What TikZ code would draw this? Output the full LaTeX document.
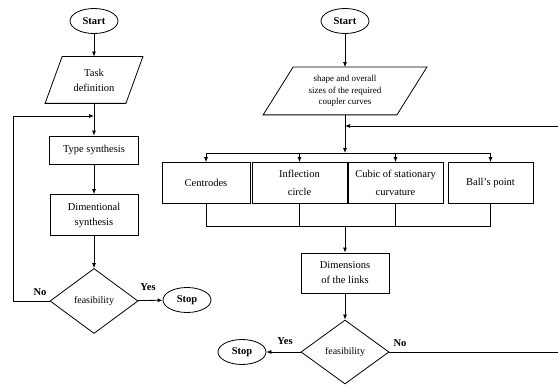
\documentclass[tikz,border=0pt]{standalone}
\usepackage{fontspec}
\setmainfont{Liberation Serif}
\usetikzlibrary{shapes.geometric,arrows.meta}
\tikzset{
  box/.style={draw,rectangle,align=center,inner sep=2pt,font=\fontsize{10.5}{15}\selectfont},
  paratext/.style={rectangle,align=center,inner sep=0pt,font=\fontsize{10.5}{15}\selectfont},
  term/.style={draw,ellipse,minimum width=48pt,minimum height=25pt,inner sep=0pt,font=\bfseries\fontsize{10.5}{12}\selectfont},
  dec/.style={draw,diamond,minimum width=88pt,minimum height=65pt,inner sep=0pt,font=\fontsize{10}{12}\selectfont},
  lab/.style={font=\bfseries\fontsize{10.5}{12}\selectfont},
}
\begin{document}
\begin{tikzpicture}[x=1pt,y=-1pt,line width=0.8pt,>={Latex[length=5pt,width=4pt]}]
      \useasboundingbox (0,0) rectangle (558,385);
      \draw
        (94,21) node[term] (s1){Start}
        (94,80) node[paratext,minimum width=80pt,minimum height=46pt] (t1){Task\\definition}
        (94,150) node[box,minimum width=89pt,minimum height=28pt] (y1){Type synthesis}
        (94,215) node[box,minimum width=88pt,minimum height=41pt] (m1){Dimentional\\synthesis}
        (94,301) node[dec] (f1){feasibility}
        (187,300) node[term] (e1){Stop}
        (345,21) node[term] (s2){Start}
        (345,91) node[paratext,minimum width=133pt,minimum height=47pt,font=\fontsize{9}{11.3}\selectfont] (t2){shape and overall\\sizes of the required\\coupler curves}
        (206,183) node[box,minimum width=88pt,minimum height=41pt] (b1){Centrodes}
        (299.5,183) node[box,minimum width=95pt,minimum height=41pt] (b2){Inflection\\[3pt]circle}
        (395.5,183) node[box,minimum width=95pt,minimum height=41pt] (b3){Cubic of stationary\\[3pt]curvature}
        (490.5,183) node[box,minimum width=85pt,minimum height=41pt] (b4){Ball's point}
        (345,273) node[box,minimum width=88pt,minimum height=40pt] (m2){Dimensions\\of the links}
        (345,352) node[dec,minimum height=64pt] (f2){feasibility}
        (242,352) node[term] (e2){Stop};
      \draw ([xshift=-8.5pt]t1.south west) -- ([xshift=8.5pt]t1.north west)
        -- ([xshift=8.5pt]t1.north east) -- ([xshift=-8.5pt]t1.south east) -- cycle;
      \draw ([xshift=-15pt]t2.south west) -- ([xshift=15pt]t2.north west)
        -- ([xshift=15pt]t2.north east) -- ([xshift=-15pt]t2.south east) -- cycle;
      \coordinate (l1) at (94,116);
      \coordinate (j1) at (345,126);
      \coordinate (j2) at (345,153);
      \coordinate (j3) at (345,226);
      \node[lab] (no1) at (40,292) {No};
      \node[lab] (yes1) at (148,287) {Yes};
      \node[lab] (yes2) at (285,341) {Yes};
      \node[lab] (no2) at (400,343) {No};
      \begin{scope}[->]
        \draw (s1) to (t1);
        \draw (t1) to (y1);
        \draw (y1) to (m1);
        \draw (m1) to (f1);
        \draw (f1) to (e1);
        \draw (f1.west) -- (13,301) -- (13,116) -- (l1);
        \draw (s2) to (t2);
        \draw (t2) to (j2);
        \draw (f2.east) -- (561,352) -- (561,126) -- (j1);
        \draw (b1|-j2) to (b1);
        \draw (b2|-j2) to (b2);
        \draw (b3|-j2) to (b3);
        \draw (b4|-j2) to (b4);
        \draw (j3) to (m2);
        \draw (m2) to (f2);
        \draw (f2) to (e2);
      \end{scope}
      \begin{scope}[-]
        \draw (b1|-j2) -- (b4|-j2);
        \draw (b1) -- (b1|-j3);
        \draw (b2) -- (b2|-j3);
        \draw (b3) -- (b3|-j3);
        \draw (b4) -- (b4|-j3);
        \draw (b1|-j3) -- (b4|-j3);
      \end{scope}
    \end{tikzpicture}
\end{document}
